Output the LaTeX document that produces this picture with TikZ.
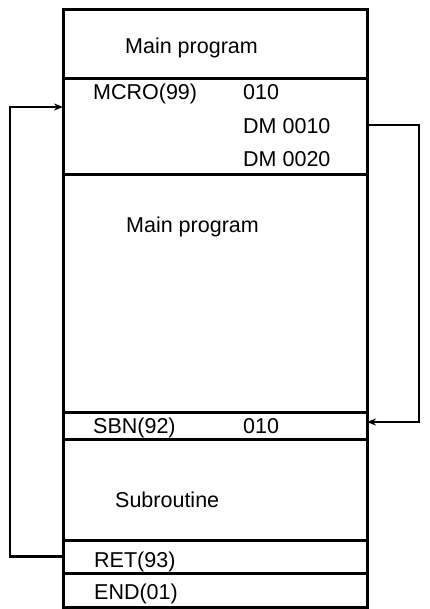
\documentclass[tikz,border=0pt]{standalone}
\usepackage{fontspec}
\setmainfont{Liberation Sans}
\usetikzlibrary{positioning,arrows.meta}

\begin{document}
\begin{tikzpicture}[x=1bp,y=-1bp,
    part/.style={draw,line width=3bp,minimum width=304bp,inner sep=0pt,outer sep=0pt},
    txt/.style={anchor=base west,inner sep=0pt,font=\fontsize{21.5bp}{24bp}\selectfont},
    flow/.style={line width=2.6bp,-{Stealth[length=9bp,width=7bp]}}]
   \useasboundingbox (0,0) rectangle (429,609);

   % program blocks, top to bottom
   \node[part,anchor=north west,minimum height=69bp] (main1) at (63,10) {};
   \node[part,minimum height=95bp,below=0pt of main1] (mcro) {};
   \node[part,minimum height=238bp,below=0pt of mcro] (main2) {};
   \node[part,minimum height=27bp,below=0pt of main2] (sbn) {};
   \node[part,minimum height=101bp,below=0pt of sbn] (sub) {};
   \node[part,minimum height=33bp,below=0pt of sub] (ret) {};
   \node[part,minimum height=34bp,below=0pt of ret] (end) {};

   \node[txt] (t-main1) at (125,54) {Main program};
   \node[txt] (t-mcro) at (93,100) {MCRO(99)};
   \node[txt] (t-mcro1) at (243,100) {010};
   \node[txt] (t-mcro2) at (243,134) {DM 0010};
   \node[txt] (t-mcro3) at (243,167) {DM 0020};
   \node[txt] (t-main2) at (126,232) {Main program};
   \node[txt] (t-sbn) at (93,433) {SBN(92)};
   \node[txt] (t-sbn1) at (243,433) {010};
   \node[txt] (t-sub) at (115,507) {Subroutine};
   \node[txt] (t-ret) at (94,567) {RET(93)};
   \node[txt] (t-end) at (94,599) {END(01)};

   % call and return
   \draw[flow] ([yshift=-46bp]mcro.north east) -- ++(52,0) |- ([yshift=-10bp]sbn.north east);
   \draw[flow] (ret.west) -- ++(-53,0) |- ([yshift=-28bp]mcro.north west);
\end{tikzpicture}
\end{document}
